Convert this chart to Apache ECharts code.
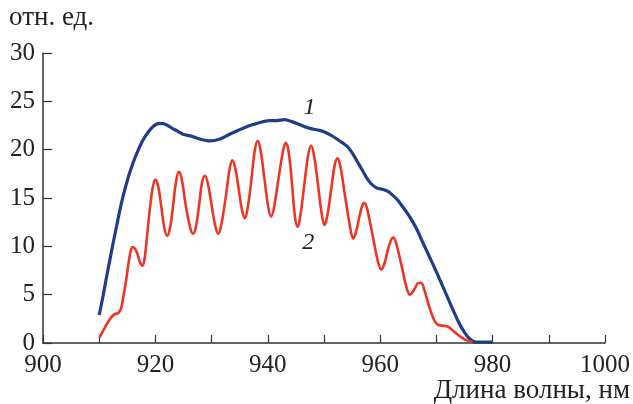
<!DOCTYPE html>
<html>
<head>
<meta charset="utf-8">
<script src="https://cdn.jsdelivr.net/npm/echarts@6/dist/echarts.min.js"></script>
<style>html,body{margin:0;padding:0;background:#fff}#c{width:633px;height:404px}</style>
</head>
<body>
<div id="c"></div>
<script>
var xTicks = [900, 920, 940, 960, 980, 1000];
var yTicks = [0, 5, 10, 15, 20, 25, 30];
var yUnit = 'отн. ед.';
var xTitle = 'Длина волны, нм';
var label1 = '1';
var label2 = '2';

var wl1 = [910.0, 910.7, 911.3, 911.9, 912.5, 913.1, 913.7, 914.3, 915.2, 916.0, 916.9, 917.8, 918.7, 919.6, 920.5, 921.4, 922.2, 923.0, 924.0, 924.9, 926.4, 927.9, 929.7, 931.5, 933.2, 935.5, 937.4, 940.3, 941.5, 943.0, 944.3, 945.6, 947.5, 949.2, 950.2, 951.2, 952.3, 953.3, 954.2, 955.1, 956.0, 956.9, 957.8, 958.7, 959.5, 960.4, 961.3, 962.2, 963.1, 964.0, 965.2, 966.4, 967.5, 968.7, 970.2, 971.7, 972.9, 974.1, 975.0, 975.8, 976.5, 977.0, 978.5, 980.0];
var int1 = [2.9, 4.9, 6.8, 8.6, 10.4, 12.1, 13.8, 15.3, 17.2, 18.6, 19.9, 21.0, 21.8, 22.4, 22.7, 22.7, 22.5, 22.2, 21.9, 21.6, 21.4, 21.1, 20.9, 21.1, 21.6, 22.2, 22.6, 23.0, 23.0, 23.1, 22.9, 22.6, 22.2, 22.0, 21.8, 21.5, 21.1, 20.7, 20.3, 19.6, 18.7, 17.8, 16.9, 16.3, 16.0, 15.9, 15.7, 15.3, 14.8, 14.1, 13.1, 11.9, 10.5, 9.0, 7.1, 5.1, 3.5, 2.0, 1.1, 0.5, 0.2, 0.1, 0.1, 0.1];

var wl2 = [910.1, 911.2, 912.2, 912.8, 913.4, 913.9, 914.3, 914.8, 915.2, 915.6, 915.9, 916.3, 916.8, 917.3, 917.7, 918.1, 918.5, 919.0, 919.5, 920.0, 920.5, 921.0, 921.6, 922.1, 922.6, 923.1, 923.7, 924.2, 924.7, 925.3, 926.2, 926.7, 927.2, 927.8, 928.3, 928.8, 929.3, 929.9, 930.7, 931.2, 931.7, 932.5, 933.2, 933.7, 934.2, 934.8, 935.4, 935.9, 936.4, 937.1, 937.7, 938.2, 938.7, 939.4, 940.1, 940.6, 941.1, 941.9, 942.7, 943.2, 943.7, 944.3, 944.8, 945.3, 945.8, 946.5, 947.2, 947.7, 948.2, 948.9, 949.6, 950.1, 950.6, 951.3, 951.9, 952.4, 952.9, 953.8, 954.7, 955.2, 955.7, 956.2, 956.8, 957.2, 957.7, 958.7, 959.6, 960.2, 960.8, 961.3, 961.9, 962.3, 962.8, 963.8, 964.7, 965.3, 965.8, 966.3, 966.8, 967.3, 967.8, 968.7, 969.5, 970.2, 971.0, 972.0, 972.7, 973.5, 974.4, 975.3, 976.4];
var int2 = [0.6, 1.8, 2.7, 3.0, 3.1, 3.6, 4.8, 6.5, 8.2, 9.5, 9.9, 9.8, 9.2, 8.3, 8.0, 8.8, 11.0, 13.8, 16.0, 16.9, 16.2, 14.3, 11.9, 11.1, 11.9, 14.0, 16.8, 17.7, 16.9, 14.6, 11.9, 11.3, 12.0, 14.4, 16.6, 17.3, 16.6, 14.6, 12.0, 11.3, 12.2, 15.0, 18.0, 18.9, 18.1, 16.0, 13.8, 12.9, 13.9, 17.0, 20.0, 20.9, 20.0, 17.0, 14.0, 13.1, 14.0, 17.0, 19.8, 20.7, 19.8, 16.5, 13.2, 12.0, 13.2, 16.4, 19.5, 20.4, 19.5, 16.5, 13.3, 12.2, 13.2, 16.0, 18.4, 19.1, 18.3, 15.0, 11.8, 10.8, 11.5, 12.8, 14.2, 14.5, 13.8, 11.0, 8.4, 7.6, 8.3, 9.5, 10.6, 10.9, 10.4, 8.0, 5.7, 5.0, 5.3, 5.8, 6.2, 6.2, 5.6, 3.8, 2.5, 1.9, 1.8, 1.7, 1.4, 1.0, 0.6, 0.3, 0.1];

function zip(a, b) { return a.map(function (v, i) { return [v, b[i]]; }); }

var FONT = 'Liberation Serif';
var chart = echarts.init(document.getElementById('c'), null, {renderer: 'canvas'});
chart.setOption({
  animation: false,
  backgroundColor: '#fff',
  grid: {left: 43, right: 27, top: 53, bottom: 61},
  xAxis: {
    type: 'value', min: xTicks[0], max: xTicks[xTicks.length - 1], interval: 10,
    axisLine: {lineStyle: {color: '#333', width: 1.5}},
    axisTick: {inside: true, length: 8, lineStyle: {color: '#333', width: 1.2}},
    splitLine: {show: false},
    axisLabel: {
      color: '#222', fontFamily: FONT, fontSize: 25, margin: 10,
      formatter: function (v) { return xTicks.indexOf(v) >= 0 ? String(v) : ''; }
    }
  },
  yAxis: {
    type: 'value', min: yTicks[0], max: yTicks[yTicks.length - 1], interval: 5,
    axisLine: {show: true, lineStyle: {color: '#333', width: 1.5}},
    axisTick: {show: true, inside: true, length: 9, lineStyle: {color: '#333', width: 1.2}},
    splitLine: {show: false},
    axisLabel: {color: '#222', fontFamily: FONT, fontSize: 25, margin: 8}
  },
  graphic: [
    {type: 'text', left: 9, top: 4, style: {text: yUnit, font: '27px "Liberation Serif"', fill: '#222'}},
    {type: 'text', right: 3, top: 377, style: {text: xTitle, font: '27px "Liberation Serif"', fill: '#222'}}
  ],
  series: [
    {
      type: 'line', data: zip(wl1, int1), smooth: 0.3, showSymbol: false,
      lineStyle: {color: '#1f3d8a', width: 3.2},
      markPoint: {
        symbol: 'circle', symbolSize: 0,
        label: {show: true, formatter: label1, color: '#222', fontFamily: FONT, fontStyle: 'italic', fontSize: 24, offset: [0, 0]},
        data: [{coord: [947.4, 24.3]}]
      },
      z: 2
    },
    {
      type: 'line', data: zip(wl2, int2), smooth: 0.4, showSymbol: false,
      lineStyle: {color: '#ee3424', width: 2.6},
      markPoint: {
        symbol: 'circle', symbolSize: 0,
        label: {show: true, formatter: label2, color: '#222', fontFamily: FONT, fontStyle: 'italic', fontSize: 24, offset: [0, 0]},
        data: [{coord: [947.2, 10.4]}]
      },
      z: 3
    }
  ]
});
</script>
</body>
</html>
